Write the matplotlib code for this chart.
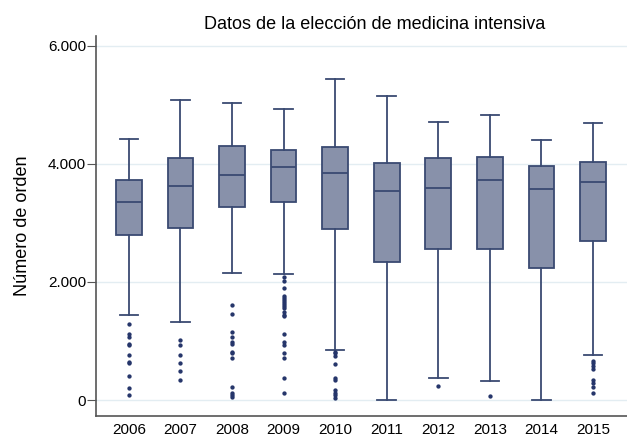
import matplotlib
matplotlib.use('Agg')
from matplotlib import pyplot as plt
from matplotlib.ticker import FuncFormatter

plt.rcParams['font.family'] = ['Liberation Sans', 'DejaVu Sans']

years = ['2006', '2007', '2008', '2009', '2010', '2011', '2012', '2013', '2014', '2015']
whislo = [1435, 1327, 2158, 2136, 848, 0, 378, 327, 0, 763]
q1 = [2797, 2910, 3277, 3361, 2893, 2345, 2554, 2565, 2232, 2700]
med = [3356, 3633, 3819, 3955, 3853, 3543, 3588, 3729, 3576, 3701]
q3 = [3729, 4107, 4305, 4237, 4294, 4012, 4102, 4113, 3966, 4040]
whishi = [4419, 5085, 5040, 4927, 5441, 5153, 4718, 4831, 4402, 4689]
fliers = [
    [1288, 1113, 1073, 949, 932, 763, 650, 622, 412, 198, 85],
    [1017, 932, 763, 622, 492, 339],
    [1610, 1452, 1147, 1073, 988, 944, 819, 791, 707, 225, 124, 85, 56],
    [2080, 2017, 1893, 1763, 1724, 1695, 1666, 1627, 1593, 1554, 1497, 1441,
     1424, 1113, 988, 932, 791, 707, 368, 124],
    [819, 791, 746, 605, 368, 339, 170, 124, 85, 28],
    [],
    [243],
    [68],
    [],
    [661, 622, 576, 520, 339, 283, 225, 113],
]

stats = []
for i in range(len(years)):
    stats.append({'label': years[i], 'whislo': whislo[i], 'q1': q1[i], 'med': med[i],
                  'q3': q3[i], 'whishi': whishi[i], 'fliers': fliers[i]})

edge = '#3a4a72'
fig = plt.figure(figsize=(6.27, 4.37), dpi=100)
ax = fig.add_axes([0.153, 0.048, 0.847, 0.87])

ax.bxp(stats, widths=0.5, patch_artist=True, showfliers=True,
       boxprops=dict(facecolor='#8891aa', edgecolor=edge, linewidth=1.3),
       medianprops=dict(color=edge, linewidth=1.3),
       whiskerprops=dict(color=edge, linewidth=1.3),
       capprops=dict(color=edge, linewidth=1.3),
       capwidths=0.36,
       flierprops=dict(marker='o', markersize=2.1, markerfacecolor='#25356a',
                       markeredgecolor='#25356a', linestyle='none'))

ax.set_ylim(-271, 6170)
ax.set_xlim(0.36, 10.66)
ax.set_yticks([0, 2000, 4000, 6000])
ax.yaxis.set_major_formatter(FuncFormatter(lambda v, p: '{:,.0f}'.format(v).replace(',', '.')))
ax.grid(axis='y', color='#e3edf2', linewidth=1)
ax.set_axisbelow(True)

for s in ['top', 'right']:
    ax.spines[s].set_visible(False)
ax.spines['left'].set_color('#555555')
ax.spines['bottom'].set_color('#555555')
ax.spines['left'].set_linewidth(1.2)
ax.spines['bottom'].set_linewidth(1.2)
ax.tick_params(axis='y', length=6.5, color='#555555', labelsize=11, pad=0.5)
ax.tick_params(axis='x', length=0, labelsize=11, pad=5)

ax.set_ylabel('Número de orden', fontsize=13, labelpad=12)
ax.set_title('Datos de la elección de medicina intensiva', fontsize=13, pad=5, x=0.525)

fig.savefig('out.png', dpi=100)
